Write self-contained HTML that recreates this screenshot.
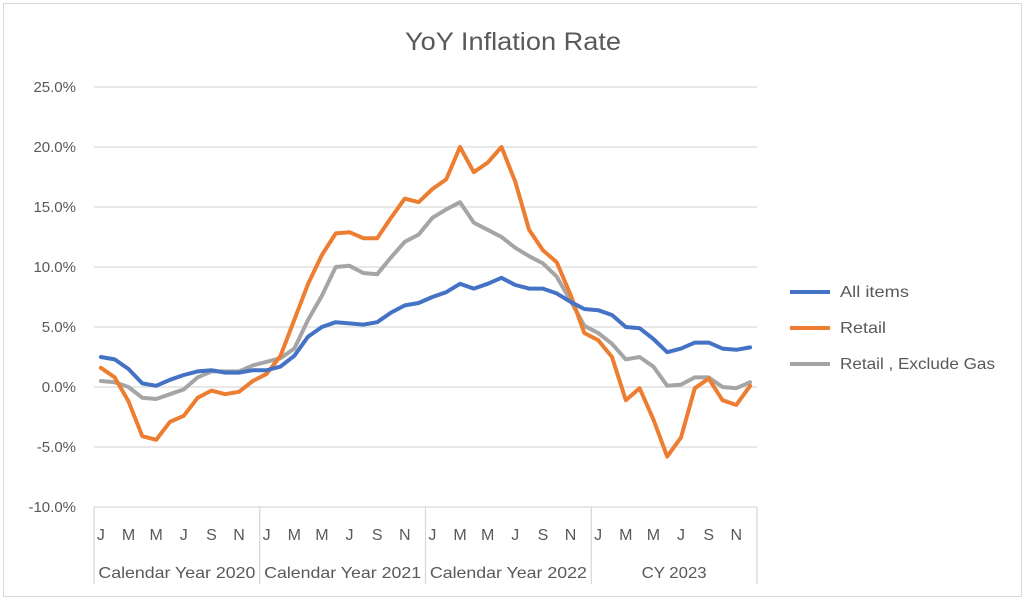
<!DOCTYPE html>
<html><head><meta charset="utf-8"><style>
html,body{margin:0;padding:0;background:#fff;}
svg{display:block;font-family:"Liberation Sans",sans-serif;}
</style></head><body>
<svg id="c" width="1026" height="602" xmlns="http://www.w3.org/2000/svg">
<rect x="3.5" y="3.5" width="1018" height="593" fill="#fff" stroke="#d9d9d9"/>
<text x="405" y="50" font-size="25" fill="#595959" textLength="216" lengthAdjust="spacingAndGlyphs">YoY Inflation Rate</text>
<g id="grid" stroke="#d9d9d9" stroke-width="1.3"></g>
<g id="ylab" font-size="15" fill="#595959" text-anchor="end"></g>
<g id="xax" stroke="#d9d9d9" stroke-width="1.3" fill="none"></g>
<g id="xlab" font-size="16" fill="#595959" text-anchor="middle"></g>
<g id="series" fill="none" stroke-width="4" stroke-linejoin="round" stroke-linecap="round"></g>
<g font-size="16" fill="#595959">
<line x1="790" y1="292" x2="830" y2="292" stroke="#4472c4" stroke-width="4"/>
<text x="840" y="297" textLength="69" lengthAdjust="spacingAndGlyphs">All items</text>
<line x1="790" y1="328" x2="830" y2="328" stroke="#ed7d31" stroke-width="4"/>
<text x="840" y="333" textLength="46" lengthAdjust="spacingAndGlyphs">Retail</text>
<line x1="790" y1="364" x2="830" y2="364" stroke="#a5a5a5" stroke-width="4"/>
<text x="840" y="369" textLength="155" lengthAdjust="spacingAndGlyphs">Retail , Exclude Gas</text>
</g>
</svg>
<script>
var NS="http://www.w3.org/2000/svg";
function el(t,a,p,txt){var e=document.createElementNS(NS,t);for(var k in a)e.setAttribute(k,a[k]);if(txt!=null)e.textContent=txt;document.getElementById(p).appendChild(e);return e;}
var L=94,R=757,W=(R-L)/48;
function Y(v){return 387-12*v;}
for(var i=0;i<8;i++){var v=25-5*i,y=Y(v);
 if(i<7) el("line",{x1:L,y1:y,x2:R,y2:y},"grid");
 el("text",{x:76,y:y+5},"ylab",v.toFixed(1)+"%");}
el("line",{x1:L,y1:507,x2:R,y2:507},"xax");
for(var g=0;g<=4;g++){var x=L+g*12*W;el("line",{x1:x,y1:507,x2:x,y2:584},"xax");}
var ml=["J","M","M","J","S","N"];
var yl=["Calendar Year 2020","Calendar Year 2021","Calendar Year 2022","CY 2023"];
var yw=[157,157,157,65];
for(var g=0;g<4;g++){
 for(var k=0;k<6;k++){el("text",{x:L+(g*12+k*2+0.5)*W,y:540},"xlab",ml[k]);}
 el("text",{x:L+(g*12+6)*W,y:578,textLength:yw[g],lengthAdjust:"spacingAndGlyphs"},"xlab",yl[g]);}
var blue=[2.5,2.3,1.5,0.3,0.1,0.6,1.0,1.3,1.4,1.2,1.2,1.4,1.4,1.7,2.6,4.2,5.0,5.4,5.3,5.2,5.4,6.2,6.8,7.0,7.5,7.9,8.6,8.2,8.6,9.1,8.5,8.2,8.2,7.8,7.1,6.5,6.4,6.0,5.0,4.9,4.0,2.9,3.2,3.7,3.7,3.2,3.1,3.3];
var orange=[1.6,0.8,-1.2,-4.1,-4.4,-2.9,-2.4,-0.9,-0.3,-0.6,-0.4,0.5,1.1,2.6,5.6,8.6,11.0,12.8,12.9,12.4,12.4,14.1,15.7,15.4,16.5,17.3,20.0,17.9,18.7,20.0,17.1,13.1,11.4,10.4,7.7,4.5,3.9,2.5,-1.1,-0.1,-2.7,-5.8,-4.2,-0.1,0.7,-1.1,-1.5,0.1];
var gray=[0.5,0.4,0.0,-0.9,-1.0,-0.6,-0.2,0.8,1.3,1.3,1.3,1.8,2.1,2.4,3.2,5.6,7.6,10.0,10.1,9.5,9.4,10.8,12.1,12.7,14.1,14.8,15.4,13.7,13.1,12.5,11.6,10.9,10.3,9.2,7.2,5.1,4.5,3.6,2.3,2.5,1.7,0.1,0.2,0.8,0.8,0.0,-0.1,0.4];
function pl(d,c){var p=d.map(function(v,i){return (L+(i+0.5)*W).toFixed(1)+","+Y(v).toFixed(1);}).join(" ");el("polyline",{points:p,stroke:c},"series");}
pl(gray,"#a5a5a5");pl(orange,"#ed7d31");pl(blue,"#4472c4");
</script>
</body></html>
